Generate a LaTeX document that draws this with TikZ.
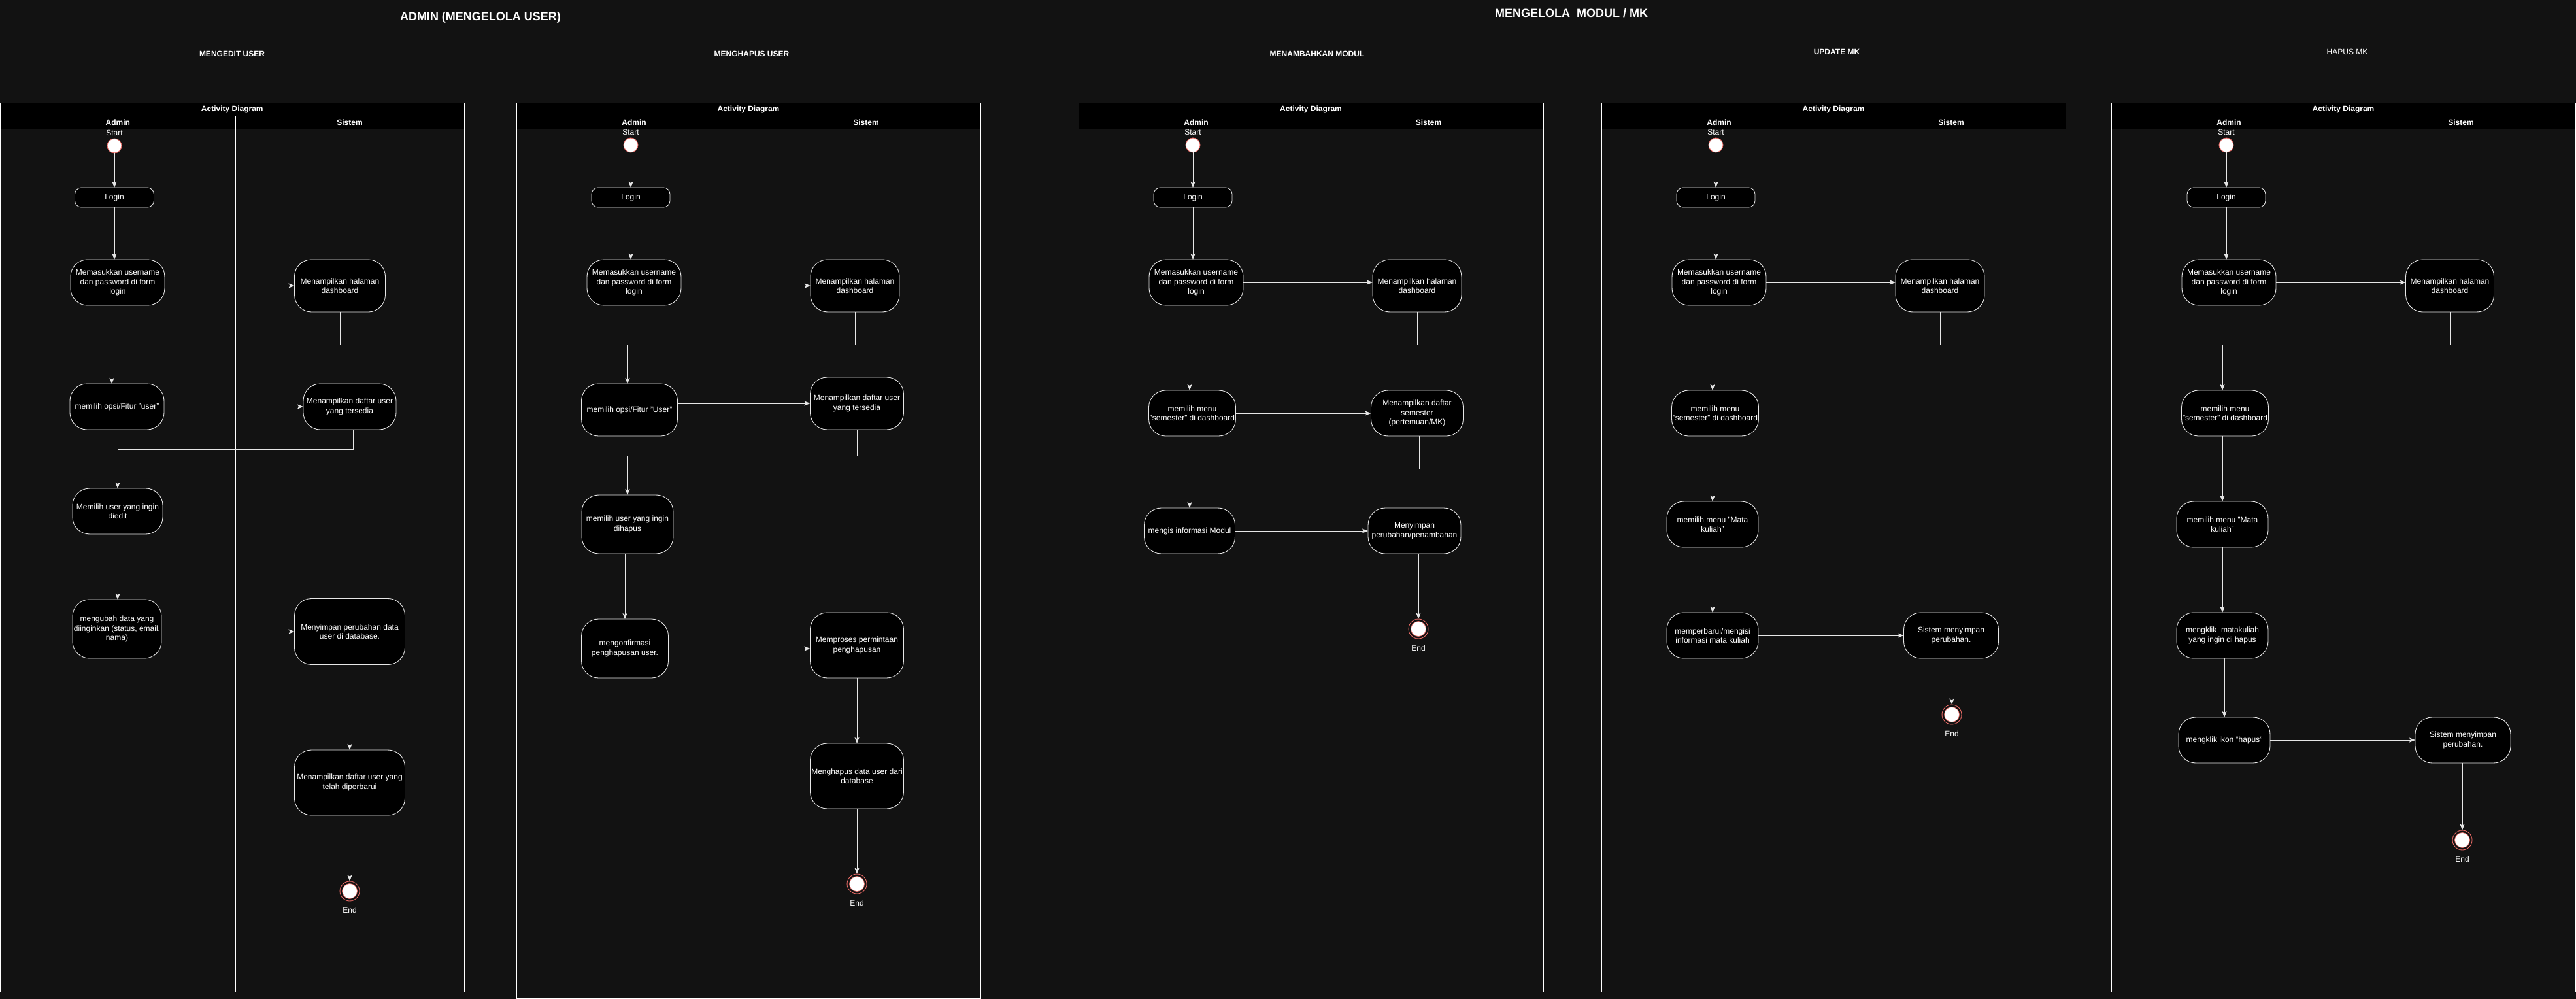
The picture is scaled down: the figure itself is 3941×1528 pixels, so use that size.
\documentclass[tikz,border=0pt]{standalone}
\usepackage{fontspec}
\setmainfont{Liberation Sans}
\usetikzlibrary{arrows.meta, positioning}
\definecolor{canvas}{HTML}{121212}
\definecolor{linegray}{HTML}{E6E6E6}
\definecolor{startred}{HTML}{EA6B66}
\tikzset{boxsize/.style 2 args={minimum width=#1pt, minimum height=#2pt}}

\begin{document}
\begin{tikzpicture}[x=1pt, y=-1pt, font=\fontsize{12pt}{14.4pt}\selectfont, text=white]
    \tikzstyle{arrow} = [draw=linegray, line width=0.9pt, -{Stealth[length=9pt, width=7pt, inset=2pt]}]
    \tikzstyle{action} = [rectangle, rounded corners=26pt, draw=linegray, fill=black, line width=0.9pt, align=center, inner sep=1pt, outer sep=0pt]
    \tikzstyle{loginbox} = [action, rounded corners=10pt, boxsize={120}{30}]
    \tikzstyle{startdot} = [circle, draw=startred, fill=white, line width=0.9pt, minimum size=22pt, inner sep=0pt]
    \tikzstyle{endring} = [circle, draw=startred, fill=canvas, line width=0.9pt, minimum size=30pt, inner sep=0pt]
    \tikzstyle{enddot} = [circle, draw=startred, fill=white, line width=0.7pt, minimum size=23pt, inner sep=0pt]
    \tikzstyle{frame} = [draw=white, line width=0.9pt]
    \tikzstyle{header} = [font=\fontsize{12pt}{14.4pt}\selectfont\bfseries]
    \tikzstyle{bigtitle} = [font=\fontsize{18pt}{21pt}\selectfont\bfseries]
    \tikzstyle{lbl} = [inner sep=0pt]

    \useasboundingbox (0,0) rectangle (3941,1528);
    \fill[canvas] (0,0) rectangle (3941,1528);

    % swimlane frames
    \foreach \i/\l/\m/\r/\b in {1/0.6/360/710/1517, 2/790/1150/1500/1527, 3/1650/2010/2361/1517, 4/2450/2810/3160/1517, 5/3230/3590/3940/1517} {
        \fill[black] (\l,157) rectangle (\r,197);
        \draw[frame] (\l,157) rectangle (\r,\b);
        \draw[frame] (\l,177) -- (\r,177);
        \draw[frame] (\l,197) -- (\r,197);
        \draw[frame] (\m,177) -- (\m,\b);
        \node[header] (diag\i) at ({(\l+\r)/2},167) {Activity Diagram};
        \node[header] (admin\i) at ({(\l+\m)/2},187) {Admin};
        \node[header] (sistem\i) at ({(\m+\r)/2},187) {Sistem};
    }

    % titles
    \node[bigtitle] (usertitle) at (735,27) {ADMIN (MENGELOLA USER)};
    \node[bigtitle] (modultitle) at (2404,20) {MENGELOLA\ \ MODUL / MK};

    % mengedit user
    \node[header] (u1title) at (355,82) {MENGEDIT USER};
    \node[startdot] (u1start) at (175,223) {};
    \node[lbl, above=4pt of u1start] (u1startlbl) {Start};
    \node[loginbox, minimum width=121pt] (u1login) at (175,302) {Login};
    \node[action, boxsize={144}{70}] (u1input) at (180,432) {Memasukkan username\\dan password di form\\login};
    \node[action, boxsize={139}{80}] (u1dash) at (520,437) {Menampilkan halaman\\dashboard};
    \node[action, boxsize={144}{70}] (u1opsi) at (179,622) {memilih opsi/Fitur "user"};
    \node[action, boxsize={142}{70}] (u1list) at (535,622) {Menampilkan daftar user\\yang tersedia};
    \node[action, boxsize={138}{70}] (u1pick) at (180,782) {Memilih user yang ingin\\diedit};
    \node[action, boxsize={136}{90}] (u1change) at (179,962) {mengubah data yang\\diinginkan (status, email,\\nama)};
    \node[action, boxsize={169}{101}] (u1save) at (535,966) {Menyimpan perubahan data\\user di database.};
    \node[action, boxsize={169}{100}] (u1show) at (535,1197) {Menampilkan daftar user yang\\telah diperbarui};
    \node[endring] (u1end) at (535,1363) {};
    \node[enddot] (u1endin) at (u1end) {};
    \node[lbl, below=9pt of u1end] (u1endlbl) {End};
    \draw[arrow] (u1start) -- (u1login);
    \draw[arrow] (u1login.south) -- (u1login.south |- u1input.north);
    \draw[arrow] (u1input.east |- u1dash.west) -- (u1dash.west);
    \draw[arrow] (u1dash.south) -- ++(0,50) -| ([xshift=-8pt]u1opsi.north);
    \draw[arrow] (u1opsi.east |- u1list.west) -- (u1list.west);
    \draw[arrow] ([xshift=5pt]u1list.south) -- ++(0,30) -| (u1pick.north);
    \draw[arrow] (u1pick.south) -- (u1pick.south |- u1change.north);
    \draw[arrow] (u1change.east |- u1save.west) -- (u1save.west);
    \draw[arrow] (u1save) -- (u1show);
    \draw[arrow] (u1show) -- (u1end);

    % menghapus user
    \node[header] (u2title) at (1150,82) {MENGHAPUS USER};
    \node[startdot] (u2start) at (965,222) {};
    \node[lbl, above=4pt of u2start] (u2startlbl) {Start};
    \node[loginbox] (u2login) at (965,302) {Login};
    \node[action, boxsize={144}{70}] (u2input) at (970,432) {Memasukkan username\\dan password di form\\login};
    \node[action, boxsize={136}{80}] (u2dash) at (1308,437) {Menampilkan halaman\\dashboard};
    \node[action, boxsize={147}{80}] (u2opsi) at (963,627) {memilih opsi/Fitur "User"};
    \node[action, boxsize={143}{80}] (u2list) at (1311,617) {Menampilkan daftar user\\yang tersedia};
    \node[action, boxsize={140}{90}] (u2pick) at (960,802) {memilih user yang ingin\\dihapus};
    \node[action, boxsize={133}{90}] (u2confirm) at (956,992) {mengonfirmasi\\penghapusan user.};
    \node[action, boxsize={143}{100}] (u2proc) at (1311,987) {Memproses permintaan\\penghapusan};
    \node[action, boxsize={143}{100}] (u2del) at (1311,1187) {Menghapus data user dari\\database};
    \node[endring] (u2end) at (1311,1352) {};
    \node[enddot] (u2endin) at (u2end) {};
    \node[lbl, below=9pt of u2end] (u2endlbl) {End};
    \draw[arrow] (u2start) -- (u2login);
    \draw[arrow] (u2login.south) -- (u2login.south |- u2input.north);
    \draw[arrow] (u2input.east |- u2dash.west) -- (u2dash.west);
    \draw[arrow] (u2dash.south) -- ++(0,50) -| ([xshift=-3pt]u2opsi.north);
    \draw[arrow] (u2opsi.east |- u2list.west) -- (u2list.west);
    \draw[arrow] (u2list.south) -- ++(0,40) -| (u2pick.north);
    \draw[arrow] (u2pick.south -| u2confirm) -- (u2confirm.north);
    \draw[arrow] (u2confirm.east) -- (u2confirm.east -| u2proc.west);
    \draw[arrow] (u2proc) -- (u2del);
    \draw[arrow] (u2del) -- (u2end);

    % menambahkan modul
    \node[header] (m3title) at (2015,82) {MENAMBAHKAN MODUL};
    \node[startdot] (m3start) at (1825,222) {};
    \node[lbl, above=4pt of m3start] (m3startlbl) {Start};
    \node[loginbox] (m3login) at (1825,302) {Login};
    \node[action, boxsize={144}{70}] (m3input) at (1830,432) {Memasukkan username\\dan password di form\\login};
    \node[action, boxsize={136}{80}] (m3dash) at (2168,437) {Menampilkan halaman\\dashboard};
    \node[action, boxsize={133}{70}] (m3sem) at (1824,632) {memilih menu\\"semester" di dashboard};
    \node[action, boxsize={141}{70}] (m3list) at (2168,632) {Menampilkan daftar\\semester\\(pertemuan/MK)};
    \node[action, boxsize={139}{70}] (m3fill) at (1820,812) {mengis informasi Modul};
    \node[action, boxsize={142}{70}] (m3save) at (2164,812) {Menyimpan\\perubahan/penambahan};
    \node[endring] (m3end) at (2170,962) {};
    \node[enddot] (m3endin) at (m3end) {};
    \node[lbl, below=9pt of m3end] (m3endlbl) {End};
    \draw[arrow] (m3start) -- (m3login);
    \draw[arrow] (m3login.south) -- (m3login.south |- m3input.north);
    \draw[arrow] (m3input.east) -- (m3input.east -| m3dash.west);
    \draw[arrow] (m3dash.south) -- ++(0,50) -| ([xshift=-4pt]m3sem.north);
    \draw[arrow] (m3sem) -- (m3list);
    \draw[arrow] ([xshift=3pt]m3list.south) -- ++(0,50) -| (m3fill.north);
    \draw[arrow] (m3fill) -- (m3save);
    \draw[arrow] (m3save.south -| m3end) -- (m3end);

    % update mk
    \node[header] (k4title) at (2810,79) {UPDATE MK};
    \node[startdot] (k4start) at (2625,222) {};
    \node[lbl, above=4pt of k4start] (k4startlbl) {Start};
    \node[loginbox] (k4login) at (2625,302) {Login};
    \node[action, boxsize={144}{70}] (k4input) at (2630,432) {Memasukkan username\\dan password di form\\login};
    \node[action, boxsize={136}{80}] (k4dash) at (2968,437) {Menampilkan halaman\\dashboard};
    \node[action, boxsize={133}{70}] (k4sem) at (2624,632) {memilih menu\\"semester" di dashboard};
    \node[action, boxsize={140}{70}] (k4mk) at (2620,802) {memilih menu "Mata\\kuliah"};
    \node[action, boxsize={140}{70}] (k4upd) at (2620,972) {memperbarui/mengisi\\informasi mata kuliah};
    \node[action, boxsize={145}{70}] (k4save) at (2985,972) {Sistem menyimpan\\perubahan.};
    \node[endring] (k4end) at (2986,1093) {};
    \node[enddot] (k4endin) at (k4end) {};
    \node[lbl, below=9pt of k4end] (k4endlbl) {End};
    \draw[arrow] (k4start) -- (k4login);
    \draw[arrow] (k4login.south) -- (k4login.south |- k4input.north);
    \draw[arrow] (k4input.east) -- (k4input.east -| k4dash.west);
    \draw[arrow] (k4dash.south) -- ++(0,50) -| ([xshift=-4pt]k4sem.north);
    \draw[arrow] (k4sem.south -| k4mk) -- (k4mk.north);
    \draw[arrow] (k4mk) -- (k4upd);
    \draw[arrow] (k4upd) -- (k4save);
    \draw[arrow] (k4save.south -| k4end) -- (k4end);

    % hapus mk
    \node[lbl] (k5title) at (3591,79) {HAPUS MK};
    \node[startdot] (k5start) at (3406,222) {};
    \node[lbl, above=4pt of k5start] (k5startlbl) {Start};
    \node[loginbox] (k5login) at (3406,302) {Login};
    \node[action, boxsize={144}{70}] (k5input) at (3410,432) {Memasukkan username\\dan password di form\\login};
    \node[action, boxsize={135}{80}] (k5dash) at (3748,437) {Menampilkan halaman\\dashboard};
    \node[action, boxsize={133}{70}] (k5sem) at (3404,632) {memilih menu\\"semester" di dashboard};
    \node[action, boxsize={140}{70}] (k5mk) at (3400,802) {memilih menu "Mata\\kuliah"};
    \node[action, boxsize={140}{70}] (k5pick) at (3400,972) {mengklik\ \ matakuliah\\yang ingin di hapus};
    \node[action, boxsize={140}{70}] (k5del) at (3403,1132) {mengklik ikon "hapus"};
    \node[action, boxsize={146}{70}] (k5save) at (3768,1132) {Sistem menyimpan\\perubahan.};
    \node[endring] (k5end) at (3767,1285) {};
    \node[enddot] (k5endin) at (k5end) {};
    \node[lbl, below=9pt of k5end] (k5endlbl) {End};
    \draw[arrow] (k5start) -- (k5login);
    \draw[arrow] (k5login.south) -- (k5login.south |- k5input.north);
    \draw[arrow] (k5input.east) -- (k5input.east -| k5dash.west);
    \draw[arrow] (k5dash.south) -- ++(0,50) -| ([xshift=-4pt]k5sem.north);
    \draw[arrow] (k5sem.south -| k5mk) -- (k5mk.north);
    \draw[arrow] (k5mk) -- (k5pick);
    \draw[arrow] (k5pick.south -| k5del) -- (k5del.north);
    \draw[arrow] (k5del) -- (k5save);
    \draw[arrow] (k5save.south -| k5end) -- (k5end);
\end{tikzpicture}
\end{document}
